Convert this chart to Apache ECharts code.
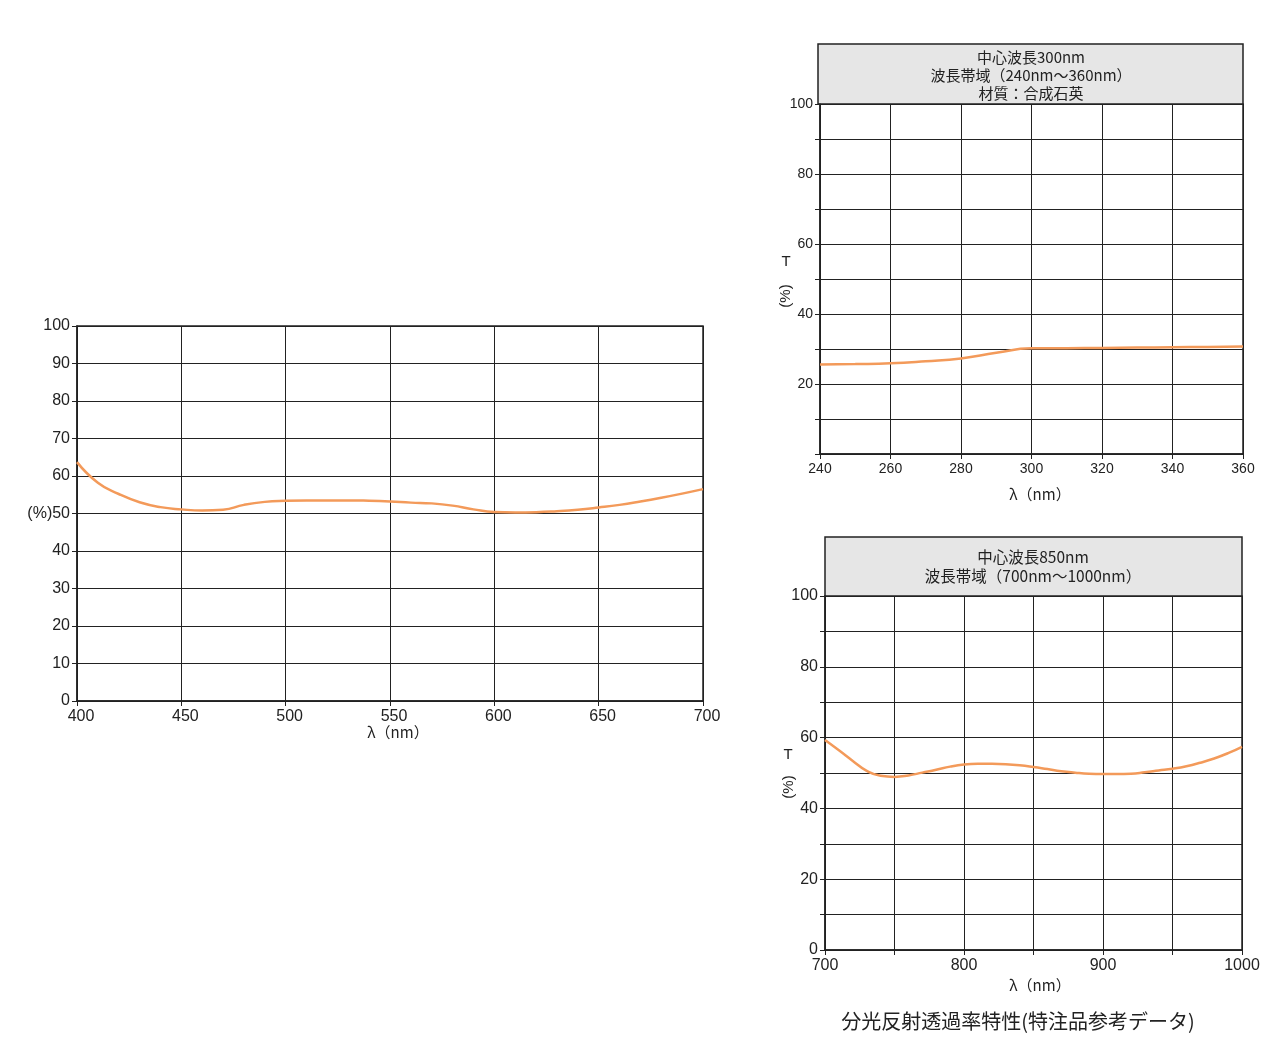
<!DOCTYPE html>
<html><head><meta charset="utf-8">
<script src="https://cdn.jsdelivr.net/npm/echarts@6/dist/echarts.min.js"></script>
<style>html,body{margin:0;padding:0;background:#fff}#c{width:1288px;height:1055px}</style>
</head><body><div id="c"></div>
<script>
// Left chart: 400-700 nm
const visWl = [400,410,420,430,440,450,460,470,480,490,500,510,520,530,540,550,560,570,580,590,600,610,620,630,640,650,660,670,680,690,700];
const visT  = [63.7,58.2,55.2,53.0,51.7,51.1,50.8,51.0,52.3,53.1,53.4,53.5,53.5,53.5,53.4,53.2,52.9,52.7,52.1,51.1,50.4,50.3,50.35,50.6,51.0,51.6,52.3,53.2,54.2,55.3,56.5];
// Top-right chart: 240-360 nm
const uvWl = [240,250,260,270,280,290,300,310,320,330,340,350,360];
const uvT  = [25.6,25.7,25.9,26.5,27.3,28.9,30.2,30.25,30.3,30.4,30.5,30.6,30.7];
// Bottom-right chart: 700-1000 nm
const irWl = [700,710,720,730,740,750,760,770,780,790,800,810,820,830,840,850,860,870,880,890,900,910,920,930,940,950,960,970,980,990,1000];
const irT  = [59.3,56.4,53.4,50.6,49.2,48.9,49.3,50.1,50.9,51.8,52.4,52.6,52.6,52.5,52.2,51.7,51.1,50.5,50.1,49.8,49.7,49.7,49.8,50.2,50.7,51.2,51.9,52.9,54.1,55.6,57.4];

const uvHeader = ['中心波長300nm','波長帯域（240nm〜360nm）','材質：合成石英'];
const irHeader = ['中心波長850nm','波長帯域（700nm〜1000nm）'];
const caption = '分光反射透過率特性(特注品参考データ)';
const axisUnit = 'λ（nm）';

const FONT = 'Liberation Sans, Noto Sans CJK JP, sans-serif';
const JFONT = 'Noto Sans CJK JP, sans-serif';
const LINE = '#f39a5a';
const GRIDC = '#222';

function xAx(gi,min,max,interval,fs,fmt,pad){
  return {type:'value',gridIndex:gi,min,max,interval,
    axisLine:{show:true,lineStyle:{color:GRIDC,width:1.5}},
    axisTick:{show:true,length:5,lineStyle:{color:GRIDC}},
    axisLabel:{color:'#222',fontSize:fs,fontFamily:FONT,margin:8,formatter:fmt,padding:pad||0},
    splitLine:{show:true,lineStyle:{color:GRIDC,width:1}}};
}
function yAx(gi,fs,fmt){
  return {type:'value',gridIndex:gi,min:0,max:100,interval:10,
    axisLine:{show:true,lineStyle:{color:GRIDC,width:1.5}},
    axisTick:{show:true,length:5,lineStyle:{color:GRIDC}},
    axisLabel:{color:'#222',fontSize:fs,fontFamily:FONT,margin:7,formatter:fmt},
    splitLine:{show:true,lineStyle:{color:GRIDC,width:1}}};
}
function ser(i,xs,ys){
  return {type:'line',xAxisIndex:i,yAxisIndex:i,smooth:0.5,showSymbol:false,
    data:xs.map((x,k)=>[x,ys[k]]),lineStyle:{color:LINE,width:2.5},silent:true};
}

const chart = echarts.init(document.getElementById('c'));
chart.setOption({
  animation:false,
  backgroundColor:'#fff',
  grid:[
    {left:77,top:326,width:626,height:375,show:true,borderColor:GRIDC,borderWidth:1.5},
    {left:820,top:104,width:423,height:350,show:true,borderColor:GRIDC,borderWidth:1.5},
    {left:825,top:596,width:417,height:354,show:true,borderColor:GRIDC,borderWidth:1.5}
  ],
  xAxis:[
    xAx(0,400,700,50,16,v=>String(v),[0,0,0,8]),
    xAx(1,240,360,20,14,v=>String(v)),
    xAx(2,700,1000,50,16,v=>(v%100===0)?String(v):'')
  ],
  yAxis:[
    yAx(0,16,v=>v===50?'(%)50':String(v)),
    yAx(1,14,v=>(v%20===0&&v>0)?String(v):''),
    yAx(2,16,v=>(v%20===0)?String(v):'')
  ],
  series:[ser(0,visWl,visT),ser(1,uvWl,uvT),ser(2,irWl,irT)],
  graphic:[
    {type:'rect',shape:{x:818,y:44,width:425,height:60},style:{fill:'#e6e6e6',stroke:GRIDC,lineWidth:1.5}},
    {type:'text',x:1031,y:75,style:{text:uvHeader.join('\n'),fill:'#222',font:'15px '+JFONT,lineHeight:18,textAlign:'center',textVerticalAlign:'middle'}},
    {type:'rect',shape:{x:825,y:537,width:417,height:59},style:{fill:'#e6e6e6',stroke:GRIDC,lineWidth:1.5}},
    {type:'text',x:1033,y:567,style:{text:irHeader.join('\n'),fill:'#222',font:'15.5px '+JFONT,lineHeight:19,textAlign:'center',textVerticalAlign:'middle'}},
    {type:'text',x:398,y:732,style:{text:axisUnit,fill:'#222',font:'15px '+JFONT,textAlign:'center',textVerticalAlign:'middle'}},
    {type:'text',x:1040,y:494,style:{text:axisUnit,fill:'#222',font:'15px '+JFONT,textAlign:'center',textVerticalAlign:'middle'}},
    {type:'text',x:1040,y:985,style:{text:axisUnit,fill:'#222',font:'15px '+JFONT,textAlign:'center',textVerticalAlign:'middle'}},
    {type:'text',x:786,y:262,style:{text:'T',fill:'#222',font:'15px '+FONT,textAlign:'center',textVerticalAlign:'middle'}},
    {type:'text',x:786,y:296,rotation:Math.PI/2,style:{text:'(%)',fill:'#222',font:'15px '+FONT,textAlign:'center',textVerticalAlign:'middle'}},
    {type:'text',x:788,y:755,style:{text:'T',fill:'#222',font:'15px '+FONT,textAlign:'center',textVerticalAlign:'middle'}},
    {type:'text',x:789,y:787,rotation:Math.PI/2,style:{text:'(%)',fill:'#222',font:'15px '+FONT,textAlign:'center',textVerticalAlign:'middle'}},
    {type:'text',x:1018,y:1021,style:{text:caption,fill:'#222',font:'20px '+JFONT,textAlign:'center',textVerticalAlign:'middle'}}
  ]
});
</script></body></html>
